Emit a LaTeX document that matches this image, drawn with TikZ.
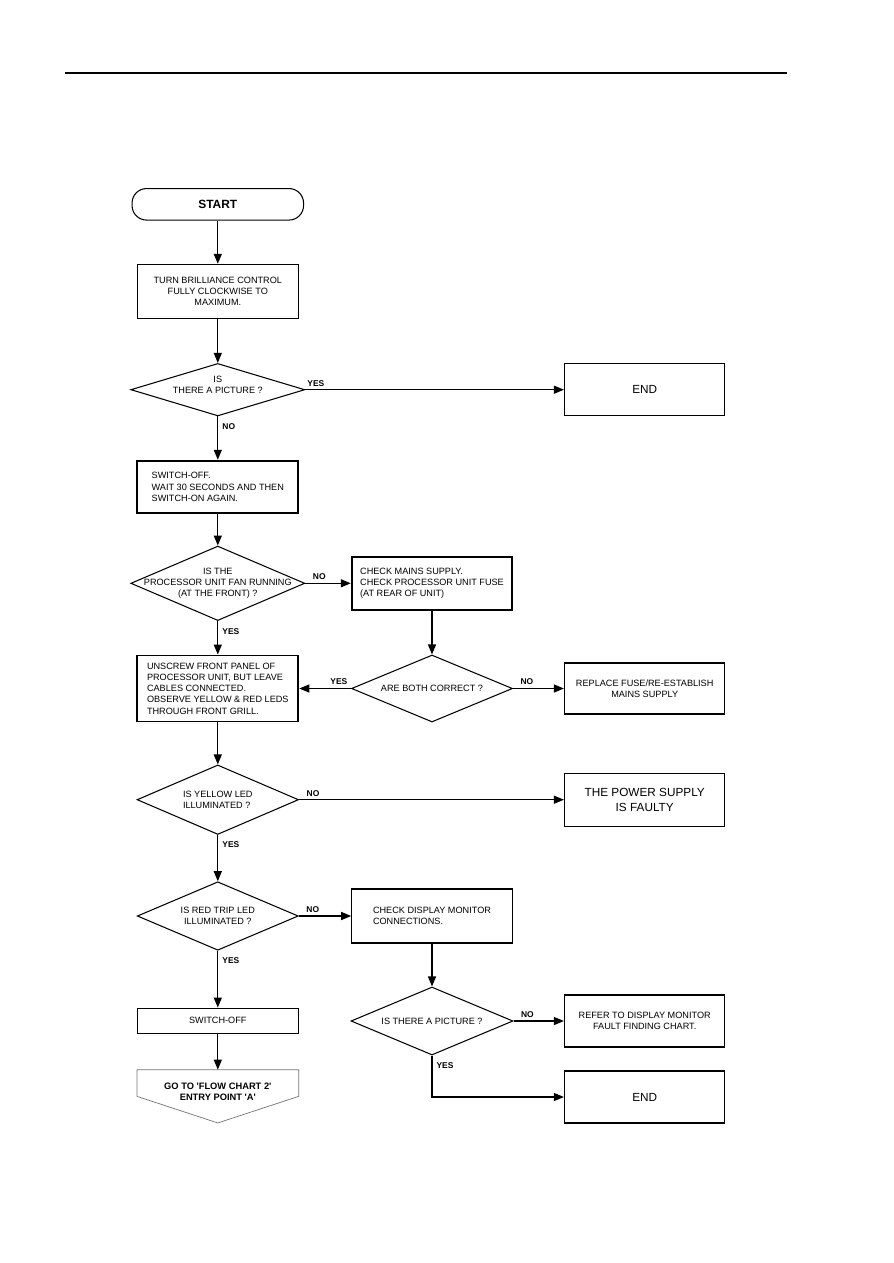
\documentclass[tikz,border=0pt]{standalone}
\usepackage{fontspec}
\usepackage{tikz}
\usetikzlibrary{arrows.meta, shapes.geometric, calc}

\newfontfamily\flowfont{Liberation Sans}
\newcommand{\txtfont}{\flowfont\fontsize{5.2}{6.4}\selectfont}
\newcommand{\bigtxtfont}{\flowfont\fontsize{6.7}{8.5}\selectfont}
\newcommand{\lblfont}{\flowfont\bfseries\fontsize{4.8}{5.5}\selectfont}
\newcommand{\startfont}{\flowfont\bfseries\fontsize{6.8}{8}\selectfont}
\newcommand{\gotofont}{\flowfont\bfseries\fontsize{5.3}{6.2}\selectfont}

\begin{document}
\begin{tikzpicture}[
    x=0.2mm, y=-0.2mm,
    font=\txtfont,
    box/.style={rectangle, draw=black, line width=0.6pt, minimum width=32.2mm,
      minimum height=10.5mm, align=center, inner sep=0.5mm},
    thickbox/.style={box, line width=1.1pt, align=left},
    endbox/.style={box, minimum width=32.1mm, font=\bigtxtfont},
    term/.style={rectangle, rounded corners=2.9mm, draw=black, line width=0.6pt,
      minimum width=34.3mm, minimum height=6.3mm, font=\startfont},
    dec/.style={diamond, draw=black, line width=0.6pt, inner sep=0pt},
    dectxt/.style={align=center, inner sep=0pt},
    offpage/.style={rectangle, minimum width=32.2mm, minimum height=8.8mm,
      align=center, inner sep=0pt, font=\gotofont},
    pagedge/.style={draw=black!55, line width=0.4pt},
    flow/.style={-{Triangle[length=2mm, width=1.6mm]}, line width=0.7pt},
    lbl/.style={font=\lblfont, inner sep=0pt, pos=0},
    lblright/.style={lbl, anchor=south west, xshift=1.4mm, yshift=0.6mm},
    lblleft/.style={lbl, anchor=south east, xshift=-0.6mm, yshift=0.6mm},
    lblbelow/.style={lbl, anchor=north west, xshift=0.8mm, yshift=-1.3mm},
  ]
  \useasboundingbox (0,0) rectangle (893,1263);
  \draw[line width=0.7pt] (65,73) -- (787,73);

  % left column
  \node[term] (start) at (217.8,204.3) {START};
  \node[box, minimum height=10.8mm] (brill) at (217.8,291.3)
    {TURN BRILLIANCE CONTROL\\FULLY CLOCKWISE TO\\MAXIMUM.};
  \node[dec, minimum width=34.8mm, minimum height=10.5mm,
    label={[dectxt, yshift=1mm]center:{IS\\THERE A PICTURE ?}}] (pic1) at (217.8,389.7) {};
  \node[thickbox] (restart) at (217.8,487)
    {SWITCH-OFF.\\WAIT 30 SECONDS AND THEN\\SWITCH-ON AGAIN.};
  \node[dec, minimum width=34.8mm, minimum height=14.9mm,
    label={[dectxt]center:{IS THE\\PROCESSOR UNIT FAN RUNNING\\(AT THE FRONT) ?}}] (fan) at (217.8,583.3) {};
  \node[thickbox, minimum height=13.2mm] (panel) at (217.8,688.5)
    {UNSCREW FRONT PANEL OF\\PROCESSOR UNIT, BUT LEAVE\\CABLES CONNECTED.\\OBSERVE YELLOW \& RED LEDS\\THROUGH FRONT GRILL.};
  \node[dec, minimum width=32.3mm, minimum height=13.9mm,
    label={[dectxt, align=left]center:{IS YELLOW LED\\ILLUMINATED ?}}] (yellow) at (217.8,799.7) {};
  \node[dec, minimum width=32.2mm, minimum height=13.7mm,
    label={[dectxt]center:{IS RED TRIP LED\\ILLUMINATED ?}}] (red) at (217.8,916) {};
  \node[box, minimum height=5mm, line width=0.8pt] (off) at (217.8,1020.8) {SWITCH-OFF};
  \node[offpage] (goto) at (217.8,1092) {GO TO 'FLOW CHART 2'\\ENTRY POINT 'A'};
  \draw[pagedge] (goto.north west) -- (goto.north east) -- ($(goto.north east)+(0,26.7)$)
    -- ($(goto.north)+(0,53.3)$) -- ($(goto.north west)+(0,26.7)$) -- cycle;

  % middle column
  \node[thickbox, minimum width=32.1mm, minimum height=10.7mm] (mains) at (432,583.3)
    {CHECK MAINS SUPPLY.\\CHECK PROCESSOR UNIT FUSE\\(AT REAR OF UNIT)};
  \node[dec, minimum width=32.2mm, minimum height=13.4mm,
    label={[dectxt]center:{ARE BOTH CORRECT ?}}] (both) at (432,688.5) {};
  \node[box, minimum width=32.1mm, minimum height=10.8mm, align=left] (monitor) at (432,916)
    {CHECK DISPLAY MONITOR\\CONNECTIONS.};
  \node[dec, minimum width=32.4mm, minimum height=13.6mm,
    label={[dectxt]center:{IS THERE A PICTURE ?}}] (pic2) at (432,1021) {};

  % right column
  \node[endbox] (end1) at (644.7,389.7) {END};
  \node[box, minimum width=32.1mm, minimum height=10.2mm] (fuse) at (644.7,688.5)
    {REPLACE FUSE/RE-ESTABLISH\\MAINS SUPPLY};
  \node[endbox, minimum height=10.6mm] (psu) at (644.7,799.7) {THE POWER SUPPLY\\IS FAULTY};
  \node[box, minimum width=32.1mm, minimum height=10.4mm] (refer) at (644.7,1021)
    {REFER TO DISPLAY MONITOR\\FAULT FINDING CHART.};
  \node[endbox, minimum height=10.4mm] (end2) at (644.7,1097) {END};

  \draw[flow] (start) -- (brill);
  \draw[flow] (brill) -- (pic1);
  \draw[flow] (pic1) -- (end1) node[lblright, xshift=-1.1mm] {YES};
  \draw[flow] (pic1) -- (restart) node[lblbelow] {NO};
  \draw[flow] (restart) -- (fan);
  \draw[flow] (fan) -- (mains) node[lblright] {NO};
  \draw[flow] (fan) -- (panel) node[lblbelow] {YES};
  \draw[flow] (mains) -- (both);
  \draw[flow] (both) -- (panel) node[lblleft] {YES};
  \draw[flow] (both) -- (fuse) node[lblright] {NO};
  \draw[flow] (panel) -- (yellow);
  \draw[flow] (yellow) -- (psu) node[lblright] {NO};
  \draw[flow] (yellow) -- (red) node[lblbelow] {YES};
  \draw[flow] (red) -- (monitor) node[lblright] {NO};
  \draw[flow] (red) -- (off) node[lblbelow] {YES};
  \draw[flow] (off) -- (goto);
  \draw[flow] (monitor) -- (pic2);
  \draw[flow] (pic2) -- (refer) node[lblright] {NO};
  \draw[flow] (pic2.south) |- (end2) node[lblbelow] {YES};
\end{tikzpicture}
\end{document}
